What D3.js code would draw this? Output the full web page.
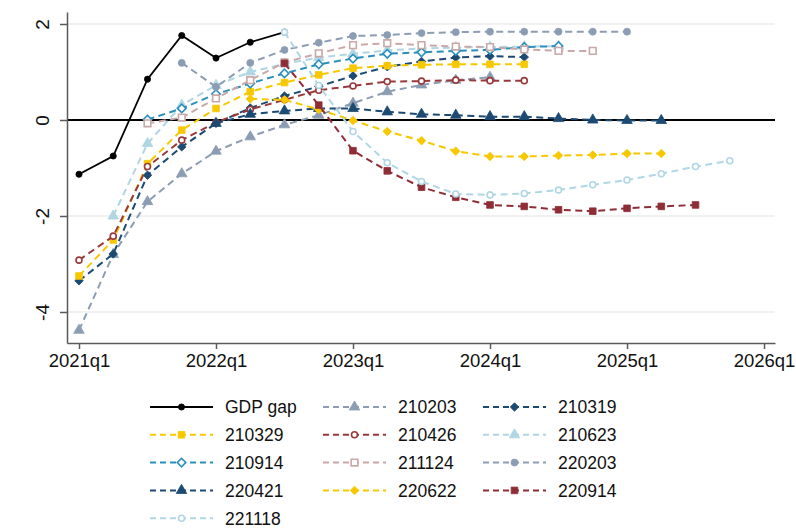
<!DOCTYPE html>
<html>
<head>
<meta charset="utf-8">
<script src="https://cdn.jsdelivr.net/npm/d3@7"></script>
<style>
  body { margin: 0; background: #fff; }
  text { font-family: "Liberation Sans", Arial, Helvetica, sans-serif; fill: #111; }
</style>
</head>
<body>
<svg id="chart" width="796" height="528"></svg>
<script>
// quarter index 0 = 2021q1
const xTickIdx = [0, 4, 8, 12, 16, 20];
const xTickLabels = ["2021q1", "2022q1", "2023q1", "2024q1", "2025q1", "2026q1"];
const yTicks = [-4, -2, 0, 2];

const seriesNames = ["GDP gap", "210203", "210319", "210329", "210426", "210623",
                     "210914", "211124", "220203", "220421", "220622", "220914", "221118"];
const startQuarter = [0, 0, 0, 0, 0, 1, 2, 2, 3, 4, 5, 6, 6];

const gdpGap  = [-1.13, -0.75, 0.85, 1.76, 1.29, 1.62, 1.83];
const v210203 = [-4.38, -2.8, -1.70, -1.12, -0.65, -0.35, -0.10, 0.10, 0.35, 0.59, 0.73, 0.83, 0.89];
const v210319 = [-3.35, -2.79, -1.15, -0.56, -0.07, 0.25, 0.50, 0.70, 0.92, 1.11, 1.22, 1.30, 1.33, 1.31];
const v210329 = [-3.25, -2.50, -0.91, -0.21, 0.24, 0.59, 0.78, 0.94, 1.08, 1.13, 1.15, 1.16, 1.16, 1.16];
const v210426 = [-2.92, -2.42, -0.97, -0.42, -0.05, 0.22, 0.42, 0.62, 0.71, 0.80, 0.81, 0.83, 0.82, 0.82];
const v210623 = [-2.0, -0.49, 0.31, 0.72, 1.0, 1.17, 1.30, 1.38, 1.45, 1.49, 1.51, 1.52, 1.53, 1.54];
const v210914 = [0.01, 0.24, 0.54, 0.76, 0.97, 1.16, 1.28, 1.38, 1.41, 1.44, 1.46, 1.52, 1.54];
const v211124 = [-0.07, 0.05, 0.45, 0.83, 1.20, 1.39, 1.56, 1.60, 1.56, 1.53, 1.52, 1.47, 1.44, 1.44];
const v220203 = [1.19, 0.69, 1.19, 1.46, 1.61, 1.75, 1.77, 1.81, 1.83, 1.84, 1.84, 1.84, 1.84, 1.84];
const v220421 = [-0.07, 0.12, 0.19, 0.24, 0.24, 0.17, 0.12, 0.10, 0.07, 0.07, 0.03, 0.0, -0.01, -0.01];
const v220622 = [0.44, 0.42, 0.22, -0.01, -0.24, -0.43, -0.65, -0.76, -0.76, -0.74, -0.73, -0.70, -0.70];
const v220914 = [1.18, 0.31, -0.64, -1.06, -1.40, -1.61, -1.77, -1.80, -1.87, -1.90, -1.84, -1.80, -1.77];
const v221118 = [1.83, 0.72, -0.24, -0.89, -1.28, -1.54, -1.56, -1.53, -1.46, -1.35, -1.25, -1.12, -0.97, -0.85];

const seriesValues = [gdpGap, v210203, v210319, v210329, v210426, v210623,
                      v210914, v211124, v220203, v220421, v220622, v220914, v221118];

// styles
const colors = ["#000000", "#8c9db3", "#1d4a72", "#f7c800", "#98393c", "#b0d6e4",
                "#2b8fbd", "#c9a8a8", "#8c9db3", "#1d4a72", "#f7c800", "#8f2d36", "#b0d6e4"];
const shapes = ["circle", "triangle", "diamond", "square", "circle", "triangle",
                "diamond", "square", "circle", "triangle", "diamond", "square", "circle"];
const hollow = [false, false, false, false, true, false, true, true, false, false, false, false, true];

const svg = d3.select("#chart");
const plot = { left: 67, right: 775, top: 12, bottom: 343 };

// 2021q1 -> 79px, 2026q1 -> 764px
const x = d3.scaleLinear().domain([-0.35, 20.32]).range([plot.left, plot.right]);
const y = d3.scaleLinear().domain([-4.646, 2.25]).range([plot.bottom, plot.top]);

const series = seriesNames.map((name, i) => ({
  name: name,
  color: colors[i],
  shape: shapes[i],
  hollow: hollow[i],
  solid: i === 0,
  points: seriesValues[i].map((v, j) => ({ t: startQuarter[i] + j, v: v }))
}));

// grid lines
svg.append("g")
  .selectAll("line")
  .data(yTicks.filter(d => d !== 0))
  .enter().append("line")
    .attr("x1", plot.left).attr("x2", plot.right)
    .attr("y1", d => y(d)).attr("y2", d => y(d))
    .attr("stroke", "#ececec")
    .attr("stroke-width", 1.5);

// zero line
svg.append("line")
  .attr("x1", plot.left).attr("x2", plot.right)
  .attr("y1", y(0)).attr("y2", y(0))
  .attr("stroke", "#000")
  .attr("stroke-width", 2);

// axes
const xAxis = svg.append("g")
  .attr("transform", "translate(0," + plot.bottom + ")")
  .call(d3.axisBottom(x)
    .tickValues(xTickIdx)
    .tickFormat((d, i) => xTickLabels[i])
    .tickSize(6)
    .tickSizeOuter(0)
    .tickPadding(5));
xAxis.select(".domain").attr("stroke", "#5a5a5a").attr("stroke-width", 1.5);
xAxis.selectAll(".tick line").attr("stroke", "#5a5a5a").attr("stroke-width", 1.5);
xAxis.selectAll("text").attr("font-size", 18.5).attr("fill", "#111")
  .style("font-family", "'Liberation Sans', Arial, sans-serif");

const yAxis = svg.append("g")
  .attr("transform", "translate(" + plot.left + ",0)")
  .call(d3.axisLeft(y)
    .tickValues(yTicks)
    .tickFormat(d => String(d))
    .tickSize(7)
    .tickSizeOuter(0));
yAxis.select(".domain").attr("stroke", "#5a5a5a").attr("stroke-width", 1.5);
yAxis.selectAll(".tick line").attr("stroke", "#5a5a5a").attr("stroke-width", 1.5);
yAxis.selectAll("text")
  .attr("x", null)
  .attr("dy", "0.35em")
  .attr("text-anchor", "middle")
  .attr("transform", "translate(-25,0) rotate(-90)")
  .attr("font-size", 19)
  .attr("fill", "#111")
  .style("font-family", "'Liberation Sans', Arial, sans-serif");

// symbols (diamond = square turned 45 degrees, like Stata)
const symbolType = {
  circle: d3.symbolCircle,
  triangle: d3.symbolTriangle,
  diamond: d3.symbolSquare,
  square: d3.symbolSquare
};
const symbolSize = { circle: 38, triangle: 48, diamond: 36, square: 44 };

function symbolPath(s) {
  let size = symbolSize[s.shape];
  if (s.solid) size = 30;
  else if (s.hollow && s.shape === "circle") size = 28;
  return d3.symbol().type(symbolType[s.shape]).size(size)();
}
function symbolRotate(s) {
  return s.shape === "diamond" ? " rotate(45)" : "";
}

const line = d3.line()
  .x(d => x(d.t))
  .y(d => y(d.v));

const lines = svg.append("g");
series.forEach(s => {
  const g = lines.append("g");
  g.append("path")
    .datum(s.points)
    .attr("d", line)
    .attr("fill", "none")
    .attr("stroke", s.color)
    .attr("stroke-width", s.solid ? 1.8 : 2)
    .attr("stroke-dasharray", s.solid ? null : "7,4.5");
  g.selectAll("path.mk")
    .data(s.points)
    .enter().append("path")
      .attr("class", "mk")
      .attr("transform", d => "translate(" + x(d.t) + "," + y(d.v) + ")" + symbolRotate(s))
      .attr("d", symbolPath(s))
      .attr("fill", s.hollow ? "#fff" : s.color)
      .attr("stroke", s.color)
      .attr("stroke-width", s.hollow ? 1.6 : 0.8);
});

// legend
const legCols = [150, 323, 483];
const legRow0 = 407, legRowH = 27.8, legLineW = 63;
const legend = svg.append("g");
series.forEach((s, i) => {
  const cx = legCols[i % 3];
  const cy = legRow0 + Math.floor(i / 3) * legRowH;
  const g = legend.append("g").attr("transform", "translate(" + cx + "," + cy + ")");
  g.append("line")
    .attr("x1", 0).attr("x2", legLineW)
    .attr("y1", 0).attr("y2", 0)
    .attr("stroke", s.color)
    .attr("stroke-width", s.solid ? 1.8 : 2)
    .attr("stroke-dasharray", s.solid ? null : "6,4");
  g.append("path")
    .attr("transform", "translate(" + legLineW / 2 + ",0)" + symbolRotate(s))
    .attr("d", symbolPath(s))
    .attr("fill", s.hollow ? "#fff" : s.color)
    .attr("stroke", s.color)
    .attr("stroke-width", s.hollow ? 1.6 : 0.8);
  g.append("text")
    .attr("x", legLineW + 12)
    .attr("dy", "0.36em")
    .attr("font-size", 17.5)
    .text(s.name);
});
</script>
</body>
</html>
